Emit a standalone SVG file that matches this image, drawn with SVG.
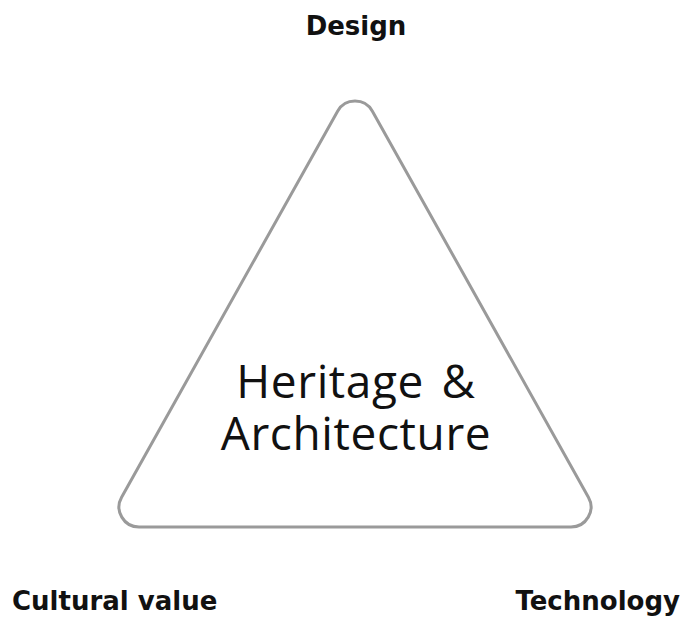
<svg xmlns="http://www.w3.org/2000/svg" width="686" height="626" viewBox="0 0 686 626">
<style>
.lbl{font-family:"DejaVu Sans","Open Sans",sans-serif;font-weight:700;font-size:26px;fill:#111}
.ctr{font-family:"Open Sans","Noto Sans","DejaVu Sans",sans-serif;font-weight:400;font-size:46px;letter-spacing:0.6px;fill:#111}
.tri{fill:none;stroke:#9a9a9a;stroke-width:3}
</style>
<rect width="686" height="626" fill="#fff"/>
<g id="triangle">
<path class="tri" d="M 337.6 111.2 L 121.6 497.2 A 20 20 0 0 0 139.1 527 L 570.9 527 A 20 20 0 0 0 588.4 497.2 L 372.4 111.2 A 20 20 0 0 0 337.6 111.2 Z"/>
<text class="ctr" x="356" y="398" text-anchor="middle" word-spacing="5">Heritage &amp;</text>
<text class="ctr" x="356" y="450" text-anchor="middle">Architecture</text>
</g>
<g id="design"><text class="lbl" x="356" y="35" text-anchor="middle">Design</text></g>
<g id="cultural"><text class="lbl" x="12" y="610">Cultural value</text></g>
<g id="technology"><text class="lbl" x="680" y="610" text-anchor="end">Technology</text></g>
</svg>
